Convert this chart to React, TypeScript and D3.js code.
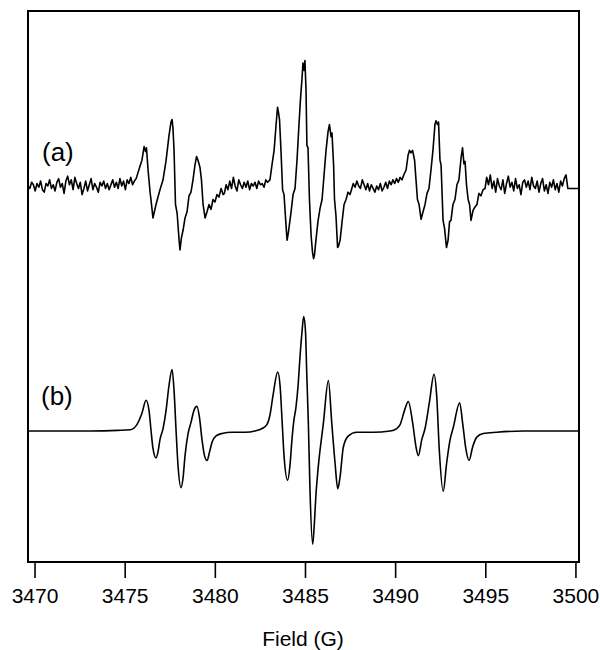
import React from "react";
import { scaleLinear, line, curveMonotoneX, curveLinear } from "d3";

const traceA: [number, number][] = [
  // baseline noise, low field
  [3469.61, 0], [3469.71, -2], [3469.81, 3], [3469.91, 1], [3470.01, -4], [3470.11, 2], [3470.21, -1],
  [3470.31, 4], [3470.41, -3], [3470.51, -5], [3470.61, 2], [3470.71, 0], [3470.81, 5], [3470.91, -2],
  [3471.01, 1], [3471.11, -4], [3471.21, 3], [3471.31, 6], [3471.41, -1], [3471.51, 2], [3471.61, -6],
  [3471.71, 4], [3471.81, 8], [3471.91, 1], [3472.01, 5], [3472.11, -3], [3472.21, 7], [3472.31, 2],
  [3472.41, -2], [3472.51, 3], [3472.61, -7], [3472.71, -2], [3472.81, 4], [3472.91, -4], [3473.01, 1],
  [3473.11, 6], [3473.21, -3], [3473.31, 2], [3473.41, -1], [3473.51, -5], [3473.61, 3], [3473.71, 0],
  [3473.81, 4], [3473.91, -2], [3474.01, 2], [3474.11, -3], [3474.21, 1], [3474.31, 5], [3474.41, -1],
  [3474.51, 3], [3474.61, -2], [3474.71, 6], [3474.81, 0], [3474.91, 4], [3475.01, -3], [3475.11, 5],
  [3475.21, 2], [3475.31, 7], [3475.41, 1], [3475.51, 4], [3475.61, 6],
  // first triplet
  [3475.82, 16], [3475.93, 21], [3476.05, 32], [3476.13, 28], [3476.18, 31], [3476.27, 13], [3476.38, -5],
  [3476.46, -15], [3476.54, -26], [3476.71, -15], [3476.82, -9], [3476.93, -3], [3477.10, 5], [3477.27, 21],
  [3477.43, 41], [3477.54, 52], [3477.60, 54], [3477.65, 47], [3477.71, 29], [3477.79, -15], [3477.88, -22],
  [3477.99, -44], [3478.04, -52], [3478.12, -42], [3478.21, -36], [3478.32, -26], [3478.43, -21], [3478.54, -8],
  [3478.65, -5], [3478.76, 5], [3478.87, 17], [3478.96, 24], [3479.04, 21], [3479.15, 15], [3479.23, 5],
  [3479.32, -15], [3479.43, -26], [3479.54, -21], [3479.65, -15], [3479.76, -19], [3479.87, -11], [3479.98, -13],
  [3480.09, -7], [3480.20, -9], [3480.32, -2], [3480.43, -7],
  [3480.50, -6], [3480.60, 1], [3480.70, -3], [3480.80, 4], [3480.90, -2], [3481.00, 7], [3481.10, 0],
  [3481.20, -4], [3481.30, 5], [3481.40, 1], [3481.50, -2], [3481.60, 3], [3481.70, -1], [3481.80, 4],
  [3481.90, -3], [3482.00, 2], [3482.10, 0], [3482.20, 3], [3482.30, -2], [3482.40, 4], [3482.50, 1],
  [3482.60, 2], [3482.70, -1], [3482.80, 5], [3482.90, 3],
  // central triplet
  [3483.03, 5], [3483.14, 17], [3483.26, 29], [3483.37, 50], [3483.45, 64], [3483.50, 60], [3483.56, 54],
  [3483.64, 29], [3483.73, -3], [3483.81, -7], [3483.92, -32], [3483.98, -44], [3484.06, -37], [3484.20, -21],
  [3484.31, -7], [3484.42, -2], [3484.53, 21], [3484.64, 50], [3484.72, 70], [3484.81, 88], [3484.86, 100],
  [3484.92, 94], [3484.97, 102], [3485.03, 78], [3485.08, 33], [3485.14, 31], [3485.22, -11], [3485.31, -40],
  [3485.39, -54], [3485.45, -59], [3485.50, -56], [3485.58, -44], [3485.69, -29], [3485.81, -18], [3485.92, -11],
  [3486.03, 9], [3486.14, 29], [3486.25, 44], [3486.33, 50], [3486.42, 40], [3486.47, 43], [3486.56, 17],
  [3486.61, -11], [3486.69, -24], [3486.78, -50], [3486.83, -49], [3486.92, -44], [3487.03, -29], [3487.14, -15],
  [3487.25, -11], [3487.36, -5], [3487.47, -7],
  [3487.55, -3], [3487.65, 2], [3487.75, -1], [3487.85, 4], [3487.95, 0], [3488.05, -2], [3488.15, 5],
  [3488.25, 1], [3488.35, -3], [3488.45, 2], [3488.55, -4], [3488.65, 1], [3488.75, -2], [3488.85, -5],
  [3488.95, 0], [3489.05, -3], [3489.15, 2], [3489.25, -4], [3489.35, -1], [3489.45, 3], [3489.55, -2],
  [3489.65, 4], [3489.75, 1], [3489.85, 5], [3489.95, 2], [3490.05, 6], [3490.15, 3], [3490.25, 7],
  [3490.35, 5], [3490.45, 9],
  // high-field triplet
  [3490.58, 13], [3490.69, 25], [3490.77, 29], [3490.85, 27], [3490.94, 29], [3491.05, 21], [3491.13, 5],
  [3491.21, -11], [3491.30, -15], [3491.41, -27], [3491.52, -21], [3491.63, -15], [3491.74, -6], [3491.85, -2],
  [3491.96, 13], [3492.07, 29], [3492.18, 50], [3492.24, 53], [3492.32, 50], [3492.38, 52], [3492.46, 21],
  [3492.52, 17], [3492.63, -28], [3492.71, -34], [3492.82, -50], [3492.91, -44], [3492.99, -29], [3493.07, -28],
  [3493.18, -15], [3493.29, -11], [3493.40, 1], [3493.51, 5], [3493.63, 23], [3493.71, 31], [3493.79, 18],
  [3493.85, 20], [3493.93, 1], [3494.02, -11], [3494.10, -15], [3494.18, -28], [3494.29, -20], [3494.40, -17],
  [3494.51, -15], [3494.62, -6], [3494.73, -8], [3494.85, -3], [3494.96, -2],
  // baseline noise, high field
  [3495.05, 7], [3495.15, 1], [3495.25, 9], [3495.35, -2], [3495.45, 4], [3495.55, -5], [3495.65, 6],
  [3495.75, 0], [3495.85, -3], [3495.95, 5], [3496.05, -6], [3496.15, 2], [3496.25, 8], [3496.35, -1],
  [3496.45, 3], [3496.55, -4], [3496.65, 6], [3496.75, -2], [3496.85, 1], [3496.95, -7], [3497.05, 3],
  [3497.15, 5], [3497.25, -1], [3497.35, 4], [3497.45, -3], [3497.55, 7], [3497.65, 0], [3497.75, -2],
  [3497.85, 4], [3497.95, -5], [3498.05, 2], [3498.15, 6], [3498.25, -4], [3498.35, 1], [3498.45, -6],
  [3498.55, 3], [3498.65, -1], [3498.75, 5], [3498.85, -3], [3498.95, 2], [3499.05, -5], [3499.15, 4],
  [3499.25, 0], [3499.35, 6], [3499.45, 9], [3499.55, -2], [3500.17, -2],
];

// simulated trace (b)
const traceB: [number, number][] = [
  [3469.61, 0], [3473.05, 0], [3474.60, 0.5], [3475.27, 1], [3475.64, 5], [3475.92, 14], [3476.16, 25],
  [3476.32, 17], [3476.43, 1], [3476.54, -14], [3476.71, -22], [3476.82, -17], [3476.93, -7], [3477.10, 2],
  [3477.27, 17], [3477.43, 37], [3477.60, 50], [3477.71, 33], [3477.82, 1], [3477.93, -28], [3478.10, -46],
  [3478.21, -38], [3478.32, -20], [3478.49, -2], [3478.65, 7], [3478.82, 17], [3478.98, 20], [3479.12, 11],
  [3479.26, -7], [3479.40, -20], [3479.54, -24], [3479.68, -17], [3479.82, -9], [3480.04, -4], [3480.37, -2],
  [3480.93, -1], [3481.65, -1], [3482.20, 0], [3482.59, 2], [3482.85, 5], [3483.03, 13], [3483.20, 29],
  [3483.46, 48], [3483.59, 37], [3483.70, 9], [3483.81, -20], [3484.01, -40], [3484.14, -28], [3484.25, -7],
  [3484.36, 9], [3484.47, 19], [3484.59, 37], [3484.70, 61], [3484.81, 81], [3484.90, 93], [3485.00, 81],
  [3485.07, 47], [3485.16, 6], [3485.25, -48], [3485.40, -92], [3485.48, -78], [3485.58, -52], [3485.71, -29],
  [3485.99, 6], [3486.27, 41], [3486.46, 6], [3486.64, -26], [3486.79, -47], [3486.92, -37], [3487.10, -13],
  [3487.38, -4], [3487.84, -1], [3488.76, -1], [3489.69, 0], [3490.06, 2], [3490.24, 5], [3490.52, 18],
  [3490.70, 24], [3490.95, 6], [3491.13, -13], [3491.26, -20], [3491.45, -7], [3491.63, 2], [3491.87, 23],
  [3492.13, 46], [3492.28, 28], [3492.42, -15], [3492.64, -49], [3492.83, -26], [3493.02, -7], [3493.20, 3],
  [3493.55, 23], [3493.72, 6], [3493.90, -15], [3494.07, -24], [3494.27, -13], [3494.50, -5], [3494.86, -2],
  [3495.61, -1], [3497.08, 0], [3500.17, 0],
];

const fieldTicks = [3470, 3475, 3480, 3485, 3490, 3495, 3500];
const traceLabels = ["(a)", "(b)"];

export default function App() {
  const left = 28, right = 579, top = 11, bottom = 562;

  const x = scaleLinear().domain([3469.61, 3500.17]).range([left, right]);
  const yA = scaleLinear().domain([-100, 100]).range([309, 63]);
  const yB = scaleLinear().domain([-100, 100]).range([554, 308]);

  const pathA = line<[number, number]>()
    .x(d => x(d[0]))
    .y(d => yA(d[1]))
    .curve(curveLinear)(traceA);
  const pathB = line<[number, number]>()
    .x(d => x(d[0]))
    .y(d => yB(d[1]))
    .curve(curveMonotoneX)(traceB);

  const font = "'Liberation Sans', Arial, sans-serif";

  return (
    <svg width={600} height={650} style={{ position: "absolute", left: 0, top: 0, background: "#fff" }}>
      <rect x={left} y={top} width={right - left} height={bottom - top} fill="none" stroke="#000" strokeWidth={2} />
      <path d={pathA || ""} fill="none" stroke="#000" strokeWidth={1.6} strokeLinejoin="round" />
      <path d={pathB || ""} fill="none" stroke="#000" strokeWidth={1.6} />
      <text x={42} y={161} fontFamily={font} fontSize={26}>{traceLabels[0]}</text>
      <text x={41} y={405} fontFamily={font} fontSize={26}>{traceLabels[1]}</text>
      {fieldTicks.map(t => (
        <g key={t}>
          <line x1={x(t)} x2={x(t)} y1={bottom} y2={578} stroke="#000" strokeWidth={1.6} />
          <text x={x(t)} y={603} textAnchor="middle" fontFamily={font} fontSize={21}>{t}</text>
        </g>
      ))}
      <text x={303} y={646} textAnchor="middle" fontFamily={font} fontSize={21}>Field (G)</text>
    </svg>
  );
}
